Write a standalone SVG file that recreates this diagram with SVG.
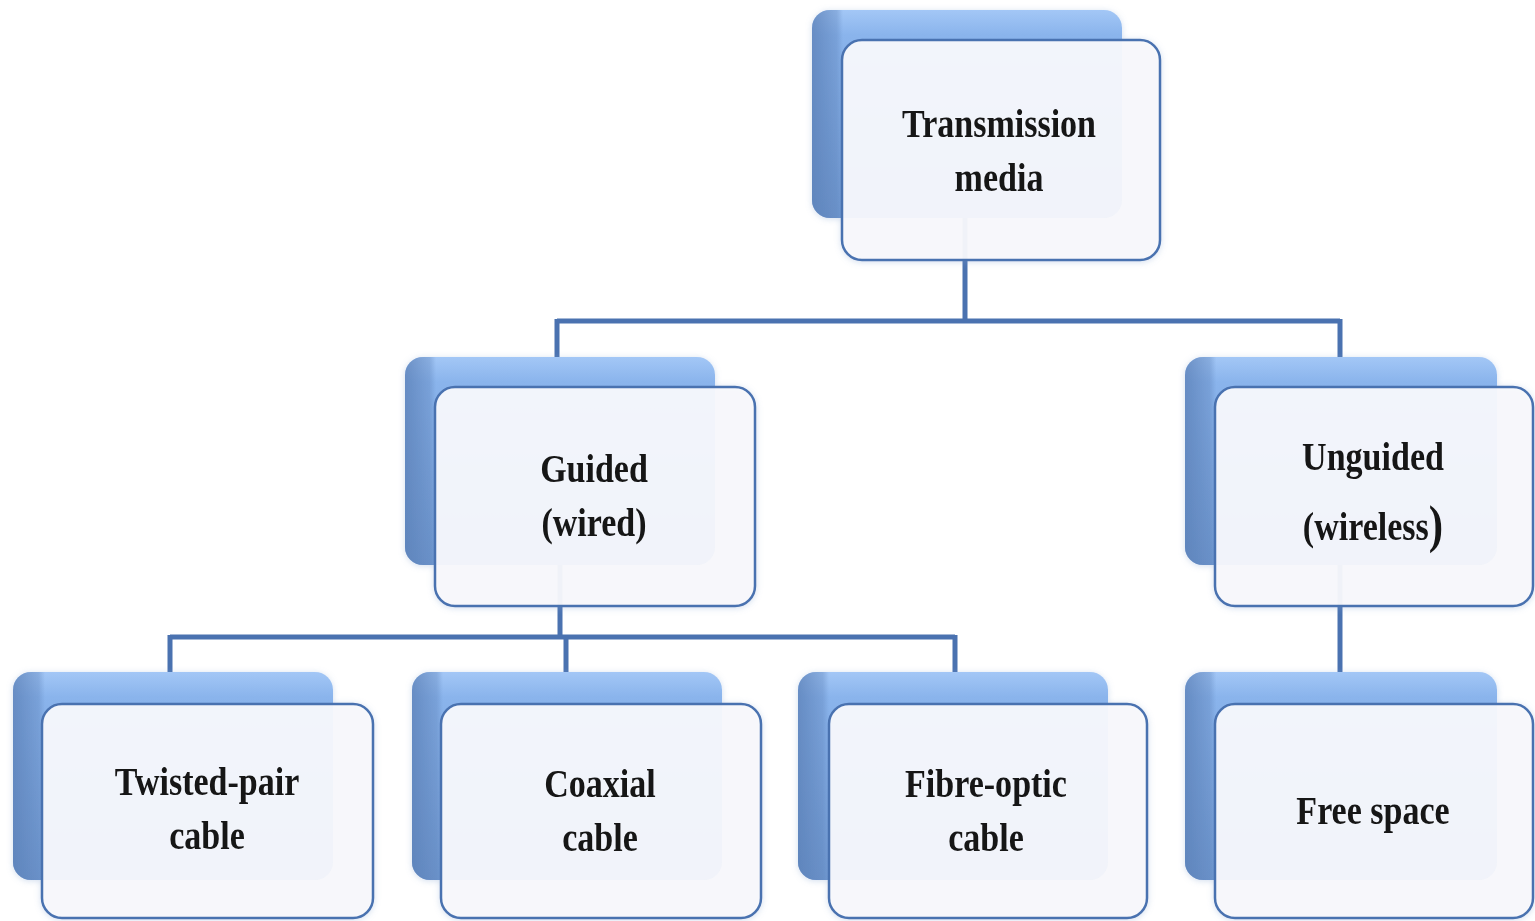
<svg xmlns="http://www.w3.org/2000/svg" width="1535" height="921" viewBox="0 0 1535 921">
  <defs>
    <linearGradient id="backV" x1="0" y1="0" x2="0" y2="1">
      <stop offset="0" stop-color="#a3c7f6"/>
      <stop offset="0.12" stop-color="#8ab4ec"/>
      <stop offset="1" stop-color="#7098d0"/>
    </linearGradient>
    <linearGradient id="backH" x1="0" y1="0" x2="1" y2="0">
      <stop offset="0" stop-color="#5a7fb6" stop-opacity="0.75"/>
      <stop offset="0.08" stop-color="#5a7fb6" stop-opacity="0.35"/>
      <stop offset="0.1" stop-color="#5a7fb6" stop-opacity="0"/>
    </linearGradient>
    <filter id="soft" x="-10%" y="-10%" width="120%" height="120%">
      <feGaussianBlur in="SourceAlpha" stdDeviation="3"/>
      <feOffset dx="0" dy="1" result="b"/>
      <feFlood flood-color="#7e9fcf" flood-opacity="0.35"/>
      <feComposite in2="b" operator="in"/>
      <feMerge><feMergeNode/><feMergeNode in="SourceGraphic"/></feMerge>
    </filter>
  </defs>
  <style>
    .back { fill: url(#backV); }
    .bevel { fill: url(#backH); }
    .front { fill: #f9f9fc; fill-opacity: 0.94; stroke: #4a72b0; stroke-width: 2.5; }
    .lbl { font-family: "Liberation Serif", "Times New Roman", serif; font-weight: bold; font-size: 41px; fill: #151515; text-anchor: middle; }
    .conn { fill: none; stroke: #4a72b0; stroke-width: 5; }
  </style>

  <rect width="1535" height="921" fill="#ffffff"/>

  <!-- connectors (drawn first so the translucent cards veil them) -->
  <g id="connectors" class="conn">
    <path d="M965 200 V321 M557 321 H1340 M557 319 V357 M1340 319 V357"/>
    <path d="M560 560 V637 M170 637 H955 M170 635 V672 M566 635 V672 M955 635 V672"/>
    <path d="M1340 560 V672"/>
  </g>

  <!-- Transmission media -->
  <g id="node-transmission" filter="url(#soft)">
    <rect class="back" x="812" y="10" width="310" height="208" rx="18"/>
    <rect class="bevel" x="812" y="10" width="310" height="208" rx="18"/>
    <rect class="front" x="842" y="40" width="318" height="220" rx="20"/>
    <text class="lbl" transform="translate(999 137) scale(0.83 1)">Transmission</text>
    <text class="lbl" transform="translate(999 191) scale(0.83 1)">media</text>
  </g>

  <!-- Guided (wired) -->
  <g id="node-guided" filter="url(#soft)">
    <rect class="back" x="405" y="357" width="310" height="208" rx="18"/>
    <rect class="bevel" x="405" y="357" width="310" height="208" rx="18"/>
    <rect class="front" x="435" y="387" width="320" height="219" rx="20"/>
    <text class="lbl" transform="translate(594 482) scale(0.83 1)">Guided</text>
    <text class="lbl" transform="translate(594 536) scale(0.83 1)">(wired)</text>
  </g>

  <!-- Unguided (wireless) -->
  <g id="node-unguided" filter="url(#soft)">
    <rect class="back" x="1185" y="357" width="312" height="208" rx="18"/>
    <rect class="bevel" x="1185" y="357" width="312" height="208" rx="18"/>
    <rect class="front" x="1215" y="387" width="318" height="219" rx="20"/>
    <text class="lbl" transform="translate(1373 470) scale(0.83 1)">Unguided</text>
    <text class="lbl" transform="translate(1373 540) scale(0.83 1)">(wireless<tspan font-size="52px" dy="2">)</tspan></text>
  </g>

  <!-- Twisted-pair cable -->
  <g id="node-twisted" filter="url(#soft)">
    <rect class="back" x="13" y="672" width="320" height="208" rx="18"/>
    <rect class="bevel" x="13" y="672" width="320" height="208" rx="18"/>
    <rect class="front" x="42" y="704" width="331" height="214" rx="20"/>
    <text class="lbl" transform="translate(207 795) scale(0.83 1)">Twisted-pair</text>
    <text class="lbl" transform="translate(207 849) scale(0.83 1)">cable</text>
  </g>

  <!-- Coaxial cable -->
  <g id="node-coaxial" filter="url(#soft)">
    <rect class="back" x="412" y="672" width="310" height="208" rx="18"/>
    <rect class="bevel" x="412" y="672" width="310" height="208" rx="18"/>
    <rect class="front" x="441" y="704" width="320" height="214" rx="20"/>
    <text class="lbl" transform="translate(600 797) scale(0.83 1)">Coaxial</text>
    <text class="lbl" transform="translate(600 851) scale(0.83 1)">cable</text>
  </g>

  <!-- Fibre-optic cable -->
  <g id="node-fibre" filter="url(#soft)">
    <rect class="back" x="798" y="672" width="310" height="208" rx="18"/>
    <rect class="bevel" x="798" y="672" width="310" height="208" rx="18"/>
    <rect class="front" x="829" y="704" width="318" height="214" rx="20"/>
    <text class="lbl" transform="translate(986 797) scale(0.83 1)">Fibre-optic</text>
    <text class="lbl" transform="translate(986 851) scale(0.83 1)">cable</text>
  </g>

  <!-- Free space -->
  <g id="node-freespace" filter="url(#soft)">
    <rect class="back" x="1185" y="672" width="312" height="208" rx="18"/>
    <rect class="bevel" x="1185" y="672" width="312" height="208" rx="18"/>
    <rect class="front" x="1215" y="704" width="318" height="214" rx="20"/>
    <text class="lbl" transform="translate(1373 824) scale(0.83 1)">Free space</text>
  </g>
</svg>
